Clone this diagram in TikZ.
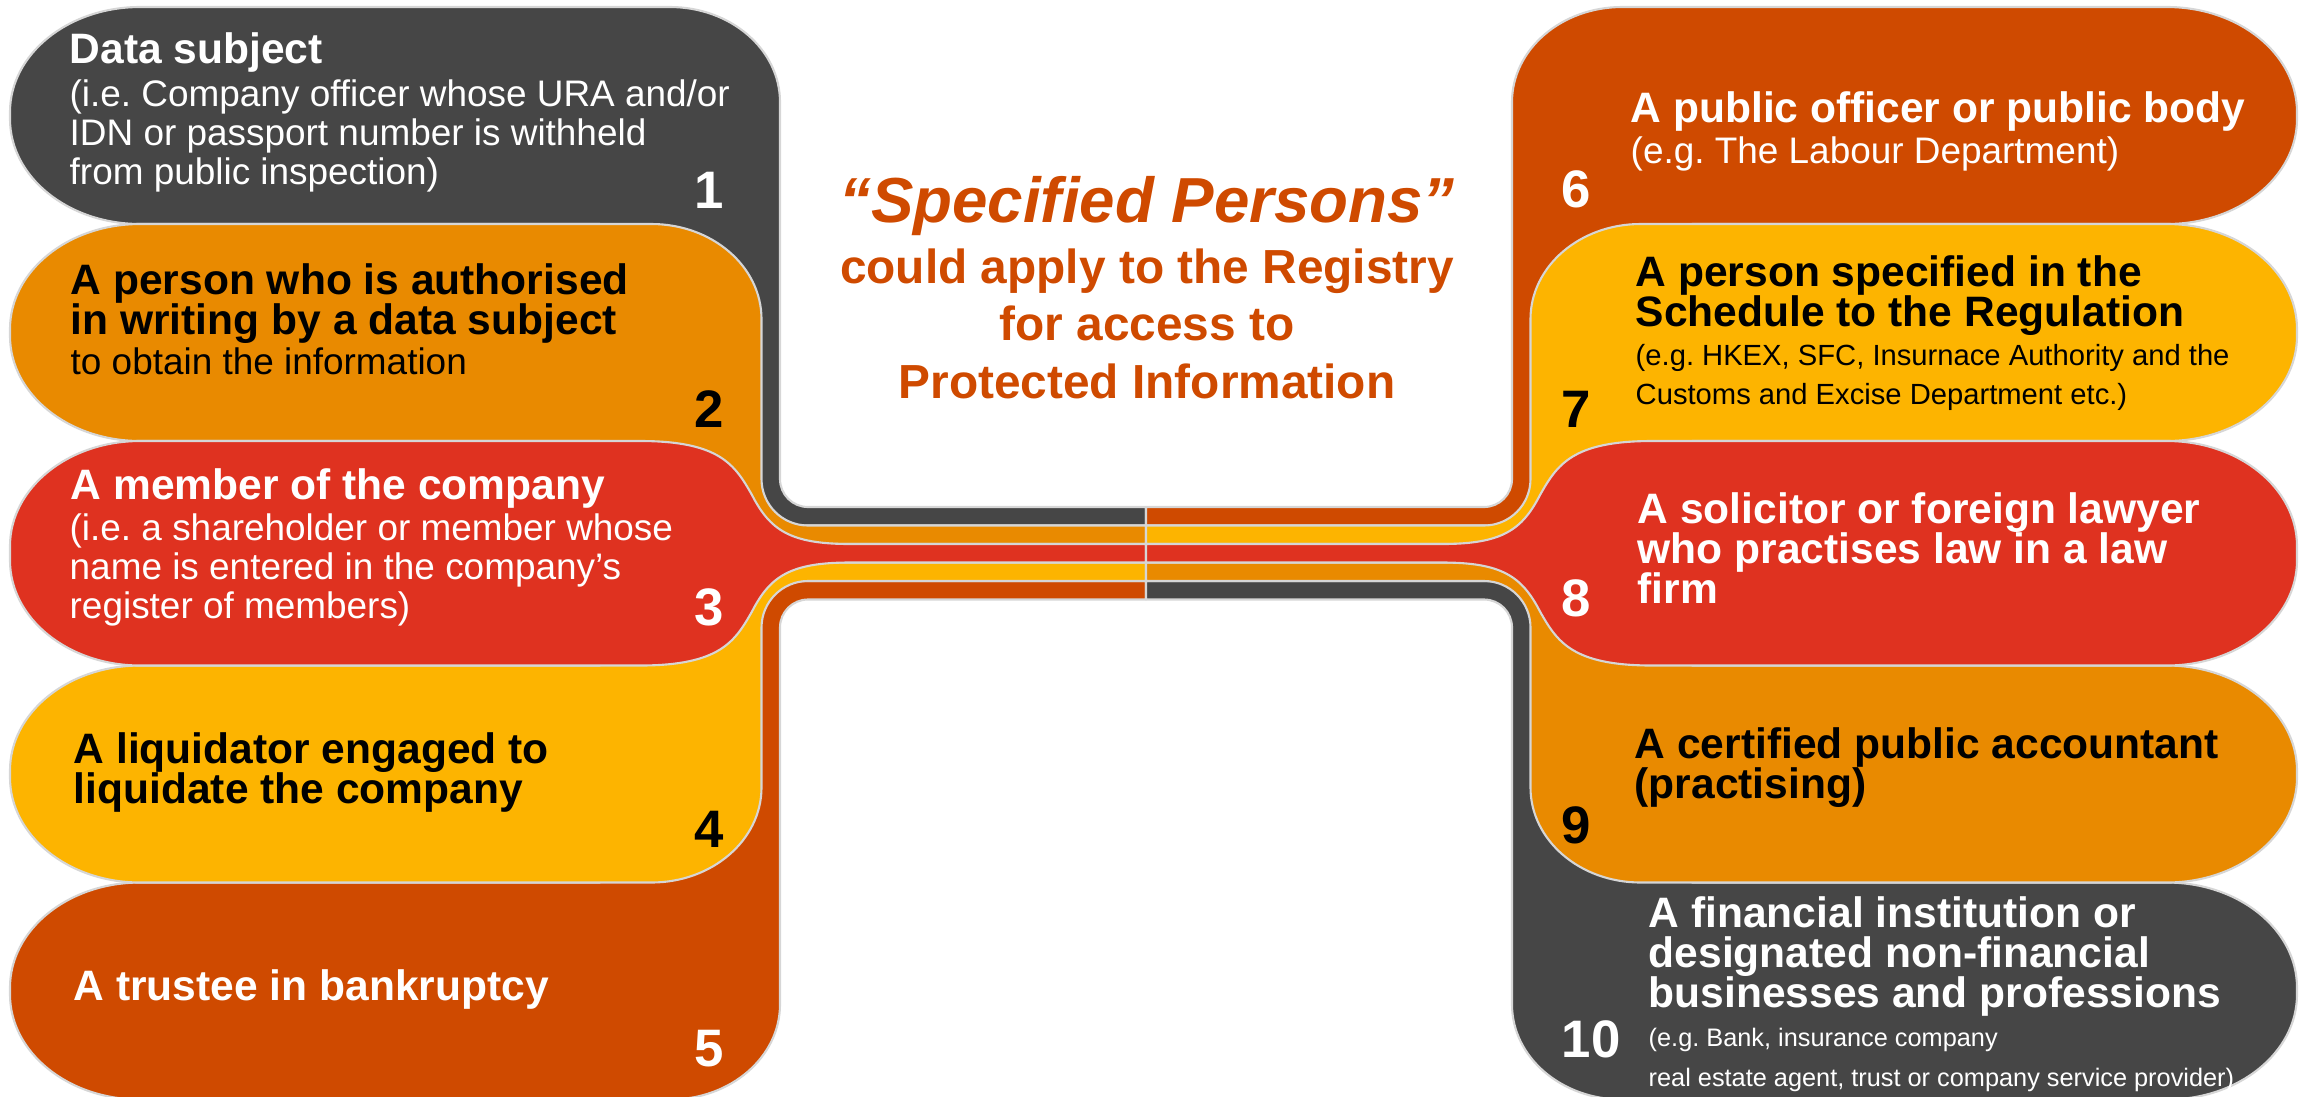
\documentclass[tikz,border=0pt]{standalone}
\usepackage{fontspec}
\setmainfont{Liberation Sans}
\frenchspacing

\definecolor{pgray}{HTML}{464646}
\definecolor{porange}{HTML}{E98A00}
\definecolor{pred}{HTML}{DF3220}
\definecolor{pyellow}{HTML}{FDB400}
\definecolor{prust}{HTML}{CF4A00}
\definecolor{edgegray}{HTML}{D6D6D6}

% lines of a text block, one \hbox each, at the exact baselineskip
\newcommand\nxt{\egroup\hbox\bgroup}
\newcommand\boxlines[1]{\vtop{\lineskiplimit=-\maxdimen\hbox\bgroup#1\egroup}}

% outlines of one side (left column; the right one is the same turned round)
\newcommand\outerpath[1]{(#1+130,7) -- (670,7)
  arc[start angle=270,end angle=360,x radius=110,y radius=95] -- (780,479)
  arc[start angle=180,end angle=90,radius=28] -- (1146,507) -- (1146,525.5)
  -- (600,525.5) -- (600,224) -- (#1+130,224)
  arc[start angle=90,end angle=180,x radius=130,y radius=105] -- (#1,112)
  arc[start angle=180,end angle=270,x radius=130,y radius=105] -- cycle}
\newcommand\middlepath[1]{(#1+130,224) -- (651.5,224)
  arc[start angle=270,end angle=360,x radius=110,y radius=95] -- (761.5,479)
  arc[start angle=180,end angle=90,radius=46.5] -- (1146,525.5) -- (1146,544)
  -- (600,544) -- (600,441) -- (#1+130,441)
  arc[start angle=90,end angle=180,x radius=130,y radius=105] -- (#1,329)
  arc[start angle=180,end angle=270,x radius=130,y radius=105] -- cycle}
\newcommand\centerpath[1]{(#1+130,441) -- (640,441)
  .. controls (720,441) and (735,465) .. (752,495)
  .. controls (770,530) and (790,544) .. (850,544) -- (1146,544) -- (1146,562.5)
  -- (850,562.5) .. controls (790,562.5) and (770,576.5) .. (752,611.5)
  .. controls (735,641.5) and (720,665.5) .. (640,665.5) -- (#1+130,665.5)
  arc[start angle=90,end angle=180,x radius=130,y radius=105] -- (#1,546)
  arc[start angle=180,end angle=270,x radius=130,y radius=105] -- cycle}

\newcommand\drawside[1]{%
  \path[sheet, fill=pgray] \outerpath{#1};
  \path[sheet, fill=porange] \middlepath{#1};
  \begin{scope}[shift={(0,1106.5)}, yscale=-1]
    \path[sheet, fill=prust] \outerpath{#1};
    \path[sheet, fill=pyellow] \middlepath{#1};
  \end{scope}
  \path[sheet, fill=pred] \centerpath{#1};
}

\tikzset{
  sheet/.style={draw=edgegray, line width=0.6pt, line join=round},
  head/.style={anchor=base west, inner sep=0pt, font=\fontsize{12.1}{11.4}\selectfont\bfseries},
  note/.style={anchor=base west, inner sep=0pt, font=\fontsize{10.5}{11.2}\selectfont},
  smallnote/.style={anchor=base west, inner sep=0pt, font=\fontsize{8.3}{11.1}\selectfont},
  finenote/.style={anchor=base west, inner sep=0pt, font=\fontsize{7.2}{11.4}\selectfont},
  numl/.style={anchor=base east, inner sep=0pt, font=\fontsize{15}{15}\selectfont\bfseries},
  numr/.style={anchor=base west, inner sep=0pt, font=\fontsize{15}{15}\selectfont\bfseries},
  centre/.style={anchor=base, inner sep=0pt, text=prust, font=\fontsize{13.6}{16.5}\selectfont\bfseries}
}

\begin{document}
\begin{tikzpicture}[x=0.01cm,y=-0.01cm]
  \useasboundingbox (0,0) rectangle (2308,1096);

  % left column
  \drawside{10}
  % right column
  \begin{scope}[rotate around={180:(1146,553.25)}]
    \drawside{-5}
  \end{scope}

  % middle text
  \node[centre, font=\fontsize{18.1}{20}\selectfont\bfseries\itshape] (c1) at (1147,222) {“Specified Persons”};
  \node[centre] (c2) at (1147,283) {could apply to the Registry};
  \node[centre] (c3) at (1147,340) {for access to};
  \node[centre] (c4) at (1147,398) {Protected Information};

  % left boxes
  \node[head, text=white] (h1) at (69,63) {Data subject};
  \node[note, text=white] (n1) at (69,106) {\boxlines{(i.e. Company officer whose URA and/or\nxt IDN or passport number is withheld\nxt from public inspection)}};
  \node[head] (h2) at (70,294) {\boxlines{A person who is authorised\nxt in writing by a data subject}};
  \node[note] (n2) at (70,374) {to obtain the information};
  \node[head, text=white] (h3) at (70,499) {A member of the company};
  \node[note, text=white] (n3) at (69,540) {\boxlines{(i.e. a shareholder or member whose\nxt name is entered in the company’s\nxt register of members)}};
  \node[head] (h4) at (73,763) {\boxlines{A liquidator engaged to\nxt liquidate the company}};
  \node[head, text=white] (h5) at (73,1000) {A trustee in bankruptcy};

  % right boxes
  \node[head, text=white] (h6) at (1630,122) {A public officer or public body};
  \node[note, text=white] (n6) at (1630,163) {(e.g. The Labour Department)};
  \node[head] (h7) at (1635,286) {\boxlines{A person specified in the\nxt Schedule to the Regulation}};
  \node[smallnote] (n7) at (1635,365) {\boxlines{(e.g. HKEX, SFC, Insurnace Authority and the\nxt Customs and Excise Department etc.)}};
  \node[head, text=white] (h8) at (1637,523) {\boxlines{A solicitor or foreign lawyer\nxt who practises law in a law\nxt firm}};
  \node[head] (h9) at (1634,758) {\boxlines{A certified public accountant\nxt (practising)}};
  \node[head, text=white] (h10) at (1648,927) {\boxlines{A financial institution or\nxt designated non-financial\nxt businesses and professions}};
  \node[finenote, text=white] (n10) at (1648,1046) {\boxlines{(e.g. Bank, insurance company\nxt real estate agent, trust or company service provider)}};

  % numbers
  \node[numl, text=white] (k1) at (725,208) {1};
  \node[numl] (k2) at (725,427) {2};
  \node[numl, text=white] (k3) at (725,625) {3};
  \node[numl] (k4) at (725,847) {4};
  \node[numl, text=white] (k5) at (725,1066) {5};
  \node[numr, text=white] (k6) at (1561,207) {6};
  \node[numr] (k7) at (1561,427) {7};
  \node[numr, text=white] (k8) at (1561,616) {8};
  \node[numr] (k9) at (1561,843) {9};
  \node[numr, text=white] (k10) at (1561,1057) {10};
\end{tikzpicture}
\end{document}
